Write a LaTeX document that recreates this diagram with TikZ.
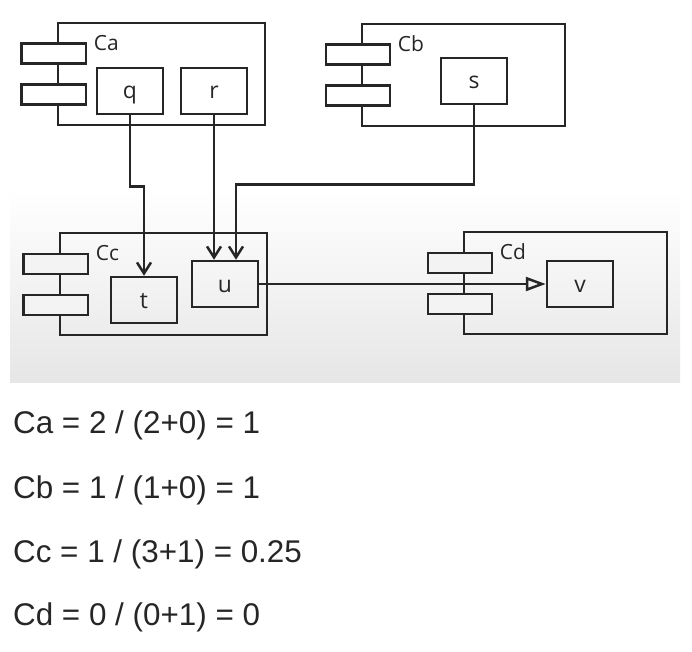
\documentclass[tikz,border=0pt]{standalone}
\usepackage{fontspec}
\setmainfont{Liberation Sans}
\newfontfamily\partfont{Open Sans}
\usetikzlibrary{arrows.meta}
\definecolor{ink}{HTML}{262626}
\definecolor{bglow}{HTML}{E6E6E6}
\definecolor{bgport}{HTML}{F3F3F3}

\begin{document}
\begin{tikzpicture}[x=1bp, y=-1bp,
	comp/.style={draw=ink, line width=2.5bp, minimum width=#1, minimum height=102bp, inner sep=0pt},
	port/.style={draw=ink, line width=2.5bp, fill=#1, minimum width=64bp, minimum height=20bp, inner sep=0pt},
	part/.style={draw=ink, line width=2.5bp, minimum width=66bp, minimum height=46bp, inner sep=0pt,
		text height=16bp, text depth=0pt, font=\partfont\fontsize{23}{23}\selectfont, text=ink},
	clabel/.style={anchor=base west, inner sep=0pt, font=\partfont\fontsize{21}{21}\selectfont, text=ink},
	dep/.style={draw=ink, line width=2.5bp, -{Straight Barb[length=11bp, width=14bp]}},
	assem/.style={draw=ink, line width=2.5bp, -{Triangle[open, length=20bp, width=14bp]}},
	eqn/.style={anchor=base west, inner sep=0pt, font=\fontsize{31.5}{31.5}\selectfont, text=ink}]
	%%%%% START %%%%%
	
	\useasboundingbox (0,0) rectangle (692,652);
	\shade[top color=white, bottom color=bglow] (10,190) rectangle (680,382);
	
	% components
	\node[comp=207bp] (Ca) at (161.5,74) {};
	\node[comp=203bp] (Cb) at (463.5,75) {};
	\node[comp=207bp] (Cc) at (163.5,284) {};
	\node[comp=203bp] (Cd) at (565.5,283) {};
	
	\foreach \c/\pc in {Ca/white, Cb/white, Cc/bgport, Cd/bgport} {
		\node[port=\pc] (\c-p1) at ([shift={(-3,32)}]\c.north west) {};
		\node[port=\pc] (\c-p2) at ([shift={(-3,73)}]\c.north west) {};
		\node[clabel] (\c-lbl) at ([shift={(37,29)}]\c.north west) {\c};
	}
	
	% parts
	\node[part] (q) at (130,91) {q};
	\node[part] (r) at (214,91) {r};
	\node[part] (s) at (474,81) {s};
	\node[part] (t) at (144,300) {t};
	\node[part] (u) at (225,284) {u};
	\node[part] (v) at (580,284) {v};
	
	% connectors
	\draw[dep] (q.south) -- ++(0,71) -| (t.north);
	\draw[dep] (r.south) -- (r.south |- u.north);
	\draw[dep] (s.south) -- ++(0,79) -| ([xshift=11bp]u.north);
	\draw[assem] (u.east) -- (v.west);
	
	% values
	\node[eqn] (eqa) at (13,433) {Ca = 2 / (2+0) = 1};
	\node[eqn] (eqb) at (13,498) {Cb = 1 / (1+0) = 1};
	\node[eqn] (eqc) at (13,562) {Cc = 1 / (3+1) = 0.25};
	\node[eqn] (eqd) at (13,625) {Cd = 0 / (0+1) = 0};
	
	%%%%% END %%%%%
\end{tikzpicture}
\end{document}
